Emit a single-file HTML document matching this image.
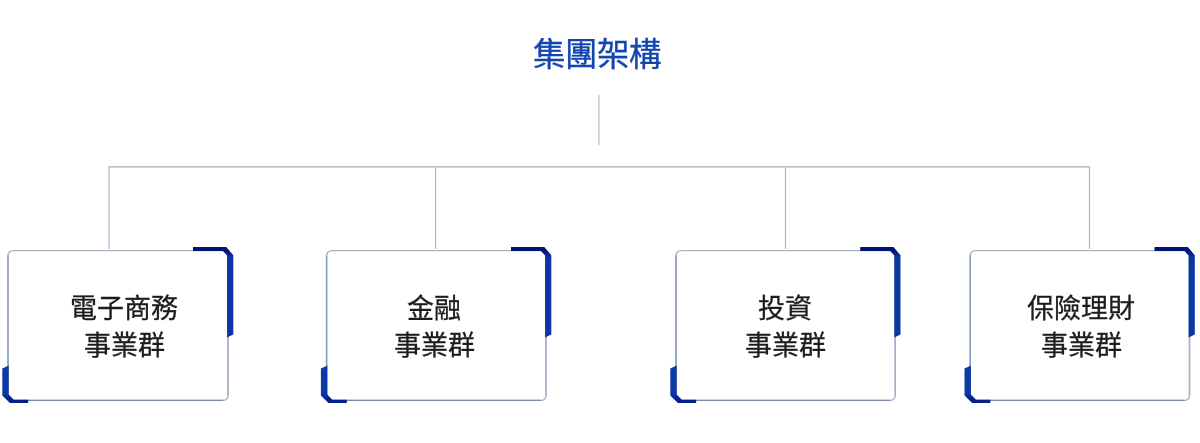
<!DOCTYPE html>
<html lang="zh-TW">
<head>
<meta charset="utf-8">
<style>
html,body{margin:0;padding:0;background:#fff;}
body{width:1200px;height:443px;position:relative;overflow:hidden;font-family:"Liberation Serif",serif;}
.title{position:absolute;left:0;top:30px;width:1193px;text-align:center;font-family:"Liberation Sans",sans-serif;font-size:32.4px;-webkit-text-stroke:0.35px #1346ae;line-height:50px;color:#1346ae;will-change:transform;}
.txt{position:absolute;top:291px;width:200px;text-align:center;font-size:27px;line-height:37px;color:#1c1c1c;-webkit-text-stroke:0.3px #1c1c1c;will-change:transform;}
svg{position:absolute;left:0;top:0;}
</style>
</head>
<body>
<svg width="1200" height="443" viewBox="0 0 1200 443">
<defs>
<linearGradient id="gt" gradientUnits="userSpaceOnUse" x1="0" y1="247" x2="0" y2="258"><stop offset="0.35" stop-color="#021472"/><stop offset="1" stop-color="#0a37a3"/></linearGradient>
<linearGradient id="gb" gradientUnits="userSpaceOnUse" x1="0" y1="393" x2="0" y2="401"><stop offset="0" stop-color="#0b3aa6"/><stop offset="0.75" stop-color="#061f8a"/></linearGradient>
</defs>
<line x1="598.9" y1="95" x2="598.9" y2="145" stroke="#b6bbd0" stroke-width="1.2"/>
<line x1="108.3" y1="166.9" x2="1090.1" y2="166.9" stroke="#9cb0c0" stroke-width="1.25"/>
<line x1="109.0" y1="167.5" x2="109.0" y2="249" stroke="#adb1c9" stroke-width="1.15"/>
<line x1="435.5" y1="167.5" x2="435.5" y2="249" stroke="#adb1c9" stroke-width="1.15"/>
<line x1="785.5" y1="167.5" x2="785.5" y2="249" stroke="#adb1c9" stroke-width="1.15"/>
<line x1="1089.5" y1="167.5" x2="1089.5" y2="249" stroke="#adb1c9" stroke-width="1.15"/>
<rect x="8.0" y="250.6" width="220.0" height="149.8" rx="5" ry="5" fill="none" stroke="#aab4c0" stroke-width="1.4"/>
<line x1="8.0" y1="255.6" x2="8.0" y2="395.4" stroke="#889cb8" stroke-width="1.4"/>
<line x1="13.0" y1="400.4" x2="223.0" y2="400.4" stroke="#7d8aa8" stroke-width="1.4"/>
<line x1="228.0" y1="255.6" x2="228.0" y2="395.4" stroke="#a6aec8" stroke-width="1.4"/>
<path d="M193.0 247 L226.3 247 L233.3 255.2 L233.3 334.5 L227.1 337.5 L227.1 255.5 L222.9 251 L193.0 251 Z" fill="url(#gt)"/>
<path d="M2.3 368.5 L8.7 365.4 L8.7 394.6 L13.8 399.8 L28.2 399.8 L28.2 402.9 L9.9 402.9 L2.3 395.4 Z" fill="url(#gb)"/>
<rect x="326.6" y="250.6" width="219.4" height="149.8" rx="5" ry="5" fill="none" stroke="#aab4c0" stroke-width="1.4"/>
<line x1="326.6" y1="255.6" x2="326.6" y2="395.4" stroke="#889cb8" stroke-width="1.4"/>
<line x1="331.6" y1="400.4" x2="541.0" y2="400.4" stroke="#7d8aa8" stroke-width="1.4"/>
<line x1="546.0" y1="255.6" x2="546.0" y2="395.4" stroke="#a6aec8" stroke-width="1.4"/>
<path d="M511.0 247 L544.3 247 L551.3 255.2 L551.3 334.5 L545.1 337.5 L545.1 255.5 L540.9 251 L511.0 251 Z" fill="url(#gt)"/>
<path d="M320.9 368.5 L327.3 365.4 L327.3 394.6 L332.4 399.8 L346.8 399.8 L346.8 402.9 L328.5 402.9 L320.9 395.4 Z" fill="url(#gb)"/>
<rect x="676.0" y="250.6" width="219.2" height="149.8" rx="5" ry="5" fill="none" stroke="#aab4c0" stroke-width="1.4"/>
<line x1="676.0" y1="255.6" x2="676.0" y2="395.4" stroke="#889cb8" stroke-width="1.4"/>
<line x1="681.0" y1="400.4" x2="890.2" y2="400.4" stroke="#7d8aa8" stroke-width="1.4"/>
<line x1="895.2" y1="255.6" x2="895.2" y2="395.4" stroke="#a6aec8" stroke-width="1.4"/>
<path d="M860.2 247 L893.5 247 L900.5 255.2 L900.5 334.5 L894.3 337.5 L894.3 255.5 L890.1 251 L860.2 251 Z" fill="url(#gt)"/>
<path d="M670.3 368.5 L676.7 365.4 L676.7 394.6 L681.8 399.8 L696.2 399.8 L696.2 402.9 L677.9 402.9 L670.3 395.4 Z" fill="url(#gb)"/>
<rect x="970.2" y="250.6" width="219.3" height="149.8" rx="5" ry="5" fill="none" stroke="#aab4c0" stroke-width="1.4"/>
<line x1="970.2" y1="255.6" x2="970.2" y2="395.4" stroke="#889cb8" stroke-width="1.4"/>
<line x1="975.2" y1="400.4" x2="1184.5" y2="400.4" stroke="#7d8aa8" stroke-width="1.4"/>
<line x1="1189.5" y1="255.6" x2="1189.5" y2="395.4" stroke="#a6aec8" stroke-width="1.4"/>
<path d="M1154.5 247 L1187.8 247 L1194.8 255.2 L1194.8 334.5 L1188.6 337.5 L1188.6 255.5 L1184.4 251 L1154.5 251 Z" fill="url(#gt)"/>
<path d="M964.5 368.5 L970.9 365.4 L970.9 394.6 L976.0 399.8 L990.4 399.8 L990.4 402.9 L972.1 402.9 L964.5 395.4 Z" fill="url(#gb)"/>
</svg>
<div class="title">集團架構</div>
<div class="txt" style="left:24.1px;">電子商務<br>事業群</div>
<div class="txt" style="left:334.1px;">金融<br>事業群</div>
<div class="txt" style="left:685.3px;">投資<br>事業群</div>
<div class="txt" style="left:981.1px;">保險理財<br>事業群</div>
</body>
</html>
